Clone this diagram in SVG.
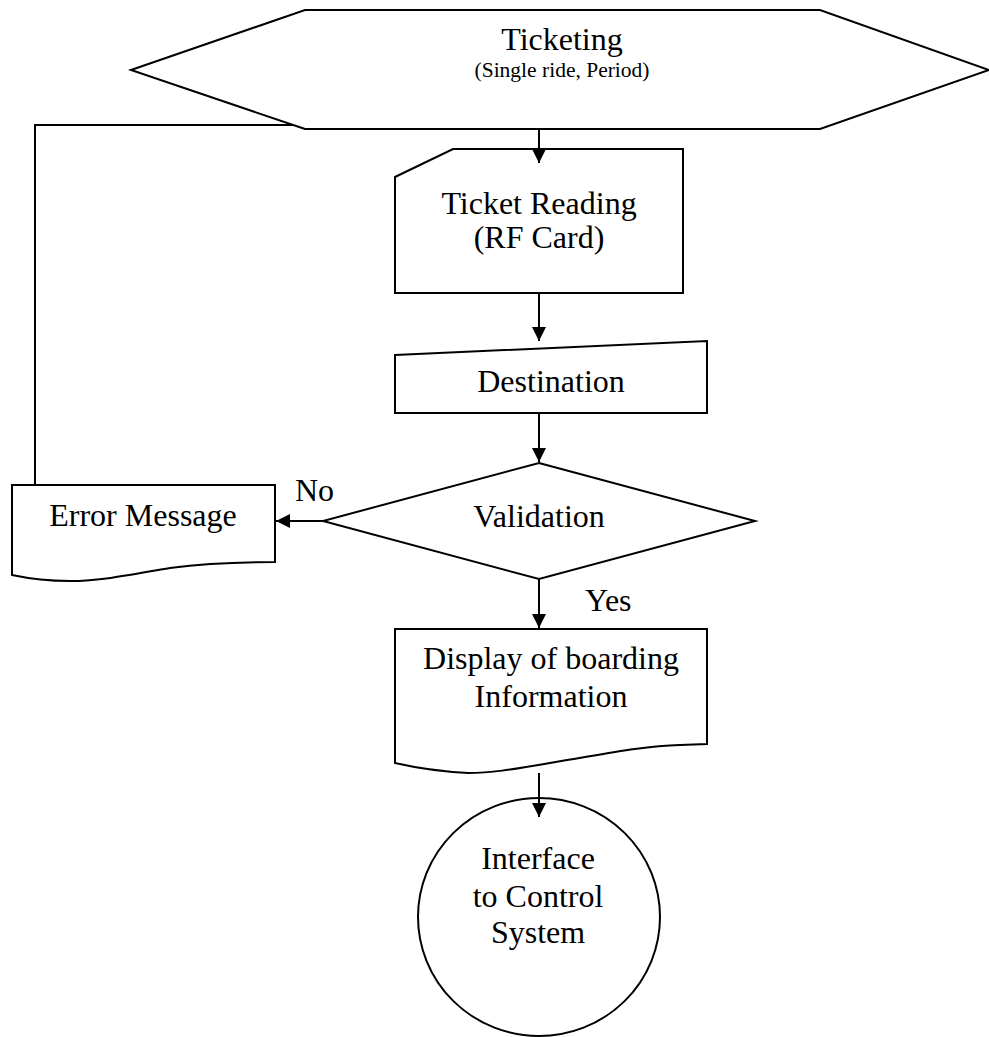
<svg xmlns="http://www.w3.org/2000/svg" width="989" height="1037" viewBox="0 0 989 1037">
<style>
  .shape { fill: #ffffff; stroke: #000000; stroke-width: 2; stroke-linejoin: miter; }
  .conn { fill: none; stroke: #000000; stroke-width: 2; }
  .t { font-family: "Liberation Serif", "Times New Roman", serif; font-size: 32px; fill: #000000; text-anchor: middle; }
  .small { font-size: 21.5px; }
  .lbl { text-anchor: start; }
</style>
<defs>
  <marker id="arrow" markerUnits="userSpaceOnUse" markerWidth="14" markerHeight="14" refX="14" refY="7" orient="auto">
    <path d="M0,0 L14,7 L0,14 Z" fill="#000000"/>
  </marker>
</defs>
<rect width="989" height="1037" fill="#ffffff"/>

<g id="node-ticketing">
  <polygon class="shape" points="131,70 305,10 820,10 989,70 820,129 305,129"/>
  <text class="t" x="562" y="50">Ticketing</text>
  <text class="t small" x="562" y="77">(Single ride, Period)</text>
</g>

<g id="node-ticket-reading">
  <path class="shape" d="M453,149 L683,149 L683,293 L395,293 L395,177 Z"/>
  <text class="t" x="539" y="214">Ticket Reading</text>
  <text class="t" x="539" y="248">(RF Card)</text>
</g>

<g id="node-destination">
  <path class="shape" d="M395,355 L707,341 L707,413 L395,413 Z"/>
  <text class="t" x="551" y="392">Destination</text>
</g>

<g id="node-validation">
  <polygon class="shape" points="539,463 755,521 539,579 323,521"/>
  <text class="t" x="539" y="527">Validation</text>
</g>

<g id="node-error">
  <path class="shape" d="M12,485 H275 V562 C230,562 200,564 170,568 C130,575 100,581 70,581 Q40,581 12,575 Z"/>
  <text class="t" x="143" y="526">Error Message</text>
</g>

<g id="node-display">
  <path class="shape" d="M395,629 H707 V744 L680,745 C640,746 600,755 550,763 C510,770 490,773 468,773 Q430,771 395,763 Z"/>
  <text class="t" x="551" y="669">Display of boarding</text>
  <text class="t" x="551" y="707">Information</text>
</g>

<g id="node-interface">
  <ellipse class="shape" cx="539" cy="917" rx="121" ry="119"/>
  <text class="t" x="538" y="869">Interface</text>
  <text class="t" x="538" y="907">to Control</text>
  <text class="t" x="538" y="943">System</text>
</g>

<g id="connectors">
  <line class="conn" x1="539" y1="129" x2="539" y2="163" marker-end="url(#arrow)"/>
  <line class="conn" x1="539" y1="293" x2="539" y2="341" marker-end="url(#arrow)"/>
  <line class="conn" x1="539" y1="413" x2="539" y2="462" marker-end="url(#arrow)"/>
  <line class="conn" x1="323" y1="521" x2="276" y2="521" marker-end="url(#arrow)"/>
  <line class="conn" x1="539" y1="579" x2="539" y2="628" marker-end="url(#arrow)"/>
  <line class="conn" x1="539" y1="773" x2="539" y2="817" marker-end="url(#arrow)"/>
  <polyline class="conn" points="35,485 35,125 293,125"/>
  <text class="t lbl" x="295" y="501">No</text>
  <text class="t lbl" x="585" y="611">Yes</text>
</g>
</svg>
